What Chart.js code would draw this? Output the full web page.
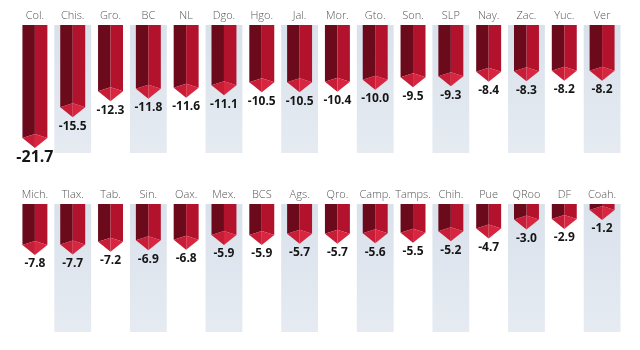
<!DOCTYPE html>
<html>
<head>
<meta charset="utf-8">
<script src="https://cdn.jsdelivr.net/npm/chart.js@4.4.0/dist/chart.umd.min.js"></script>
<style>
  html, body { margin: 0; padding: 0; background: #fff; }
  .row { position: absolute; left: 0; width: 640px; height: 175px; }
  #rowTop { top: 0; }
  #rowBottom { top: 179px; }
</style>
</head>
<body>
<div class="row" id="rowTop"><canvas id="chartTop" width="640" height="175"></canvas></div>
<div class="row" id="rowBottom"><canvas id="chartBottom" width="640" height="175"></canvas></div>
<script>
// States, first row
const statesTop = ["Col.", "Chis.", "Gro.", "BC", "NL", "Dgo.", "Hgo.", "Jal.",
                   "Mor.", "Gto.", "Son.", "SLP", "Nay.", "Zac.", "Yuc.", "Ver"];
const valuesTop = [-21.7, -15.5, -12.3, -11.8, -11.6, -11.1, -10.5, -10.5,
                   -10.4, -10.0, -9.5, -9.3, -8.4, -8.3, -8.2, -8.2];

// States, second row
const statesBottom = ["Mich.", "Tlax.", "Tab.", "Sin.", "Oax.", "Mex.", "BCS", "Ags.",
                      "Qro.", "Camp.", "Tamps.", "Chih.", "Pue", "QRoo", "DF", "Coah."];
const valuesBottom = [-7.8, -7.7, -7.2, -6.9, -6.8, -5.9, -5.9, -5.7,
                      -5.7, -5.6, -5.5, -5.2, -4.7, -3.0, -2.9, -1.2];


// Prism-style bars: shaded columns behind every other state, then a
// two-tone bar with a pointed tip and the value under it
var prismBars = {
    id: 'prismBars',
    beforeDatasetsDraw: function (chart) {
        var ctx = chart.ctx, area = chart.chartArea;
        var xs = chart.scales.x;
        var half = area.width / chart.data.labels.length / 2;
        var grad = ctx.createLinearGradient(0, area.top, 0, area.bottom);
        grad.addColorStop(0, '#d9e1eb');
        grad.addColorStop(1, '#e6ebf2');
        ctx.save();
        ctx.fillStyle = grad;
        chart.data.labels.forEach(function (l, i) {
            if (i % 2 === 1) {
                var x = xs.getPixelForValue(i);
                ctx.fillRect(x - half + 0.5, area.top, half * 2 - 1, area.bottom - area.top);
            }
        });
        ctx.restore();
    },
    afterDatasetsDraw: function (chart, args, opts) {
        var ctx = chart.ctx, area = chart.chartArea;
        var meta = chart.getDatasetMeta(0);
        var values = chart.data.datasets[0].data;
        meta.data.forEach(function (bar, i) {
            var x = bar.x, tip = bar.y, w = bar.width;
            var L = x - w / 2, R = x + w / 2, top = area.top;
            var ys = tip - w * 0.4, yc = tip - w * 0.56;

            ctx.save();
            ctx.beginPath();
            ctx.rect(L - 1, top, w + 2, tip - top + 1);
            ctx.clip();

            function poly(pts, col) {
                ctx.beginPath();
                ctx.moveTo(pts[0][0], pts[0][1]);
                for (var k = 1; k < pts.length; k++) ctx.lineTo(pts[k][0], pts[k][1]);
                ctx.closePath();
                ctx.fillStyle = col;
                ctx.fill();
            }
            poly([[L, top], [x, top], [x, yc], [L, ys]], '#6b0a1b');
            poly([[x, top], [R, top], [R, ys], [x, yc]], '#b2122c');
            poly([[L, ys], [x, yc], [x, tip]], '#c81d37');
            poly([[x, yc], [R, ys], [x, tip]], '#d92640');
            ctx.restore();

            // value under the tip
            var big = opts.bigFirst && i === 0;
            ctx.save();
            ctx.fillStyle = '#161616';
            ctx.font = 'bold ' + (big ? 16 : 12) + 'px "Open Sans"';
            ctx.textAlign = 'center';
            ctx.textBaseline = 'top';
            ctx.fillText(values[i].toFixed(1), x, tip + (big ? 1 : 3));
            ctx.restore();
        });
    }
};

function makeRow(id, labels, values, yMin, yMax, bigFirst) {
    var ctx = document.getElementById(id).getContext('2d');
    return new Chart(ctx, {
        type: 'bar',
        data: {
            labels: labels,
            datasets: [{
                data: values,
                backgroundColor: 'rgba(0,0,0,0)',
                borderWidth: 0,
                categoryPercentage: 1.0,
                barPercentage: 0.66
            }]
        },
        options: {
            responsive: false,
            animation: false,
            layout: { padding: { left: 16, right: 19, top: 0, bottom: 22 } },
            plugins: {
                legend: { display: false },
                tooltip: { enabled: false },
                prismBars: { bigFirst: bigFirst }
            },
            scales: {
                x: {
                    position: 'top',
                    grid: { display: false, drawTicks: false },
                    border: { display: false },
                    ticks: {
                        color: '#555555',
                        padding: 3,
                        font: { family: 'Open Sans', size: 11, weight: '300' },
                        maxRotation: 0,
                        autoSkip: false
                    },
                    afterFit: function (scale) { scale.height = 25; }
                },
                y: {
                    display: false,
                    min: yMin,
                    max: yMax
                }
            }
        },
        plugins: [prismBars]
    });
}

makeRow('chartTop', statesTop, valuesTop, -22.7, 3.0, true);
makeRow('chartBottom', statesBottom, valuesBottom, -22.3, 1.8, false);
</script>
</body>
</html>
